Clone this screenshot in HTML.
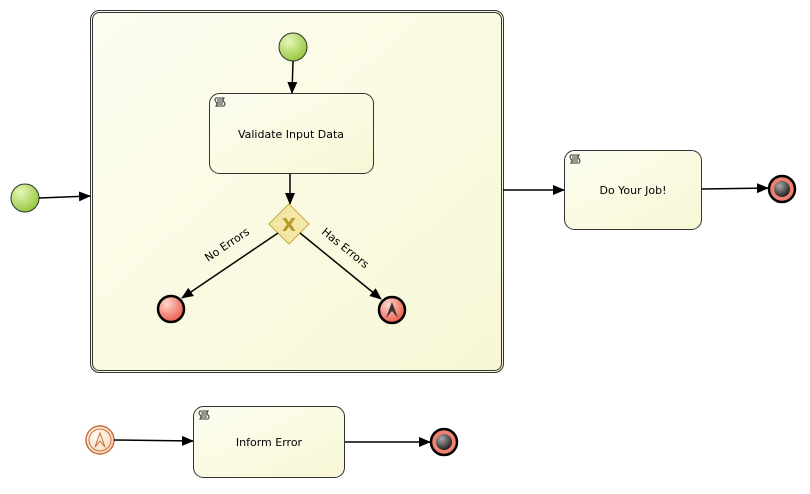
<!DOCTYPE html>
<html><head><meta charset="utf-8"><style>html,body{margin:0;padding:0;background:#fff}svg{display:block}</style></head>
<body>
<svg width="810" height="494" viewBox="0 0 810 494" xmlns="http://www.w3.org/2000/svg" font-family="'DejaVu Sans','Liberation Sans',sans-serif">
<defs>
<linearGradient id="tg" x1="0" y1="0" x2="1" y2="1"><stop offset="0" stop-color="#fdfdf0"/><stop offset="1" stop-color="#f7f7d6"/></linearGradient>
<radialGradient id="sg" cx="0.35" cy="0.3" r="0.8"><stop offset="0" stop-color="#e6f7b8"/><stop offset="1" stop-color="#8fc232"/></radialGradient>
<radialGradient id="eg" cx="0.35" cy="0.3" r="0.8"><stop offset="0" stop-color="#ffd6cc"/><stop offset="1" stop-color="#e8503c"/></radialGradient>
<radialGradient id="dg" cx="0.35" cy="0.3" r="0.8"><stop offset="0" stop-color="#aaa"/><stop offset="1" stop-color="#111"/></radialGradient>
<radialGradient id="og" cx="0.35" cy="0.3" r="0.8"><stop offset="0" stop-color="#fffaf0"/><stop offset="1" stop-color="#f5d8b8"/></radialGradient>
<marker id="ar" markerWidth="12" markerHeight="10" refX="11" refY="5" orient="auto" markerUnits="userSpaceOnUse"><path d="M0,0 L12,5 L0,10 z" fill="#000"/></marker>
<g id="scr"><path d="M2,1 h8 q-2,2 0,4 q2,2 0,4 h-8 q2,-2 0,-4 q-2,-2 0,-4z M3,3h6 M3,5h6 M3,7h6" fill="none" stroke="#333" stroke-width="1"/></g>
</defs>
<rect x="90.5" y="10.5" width="413" height="362" rx="9" fill="url(#tg)" stroke="#333"/>
<rect x="92.5" y="12.5" width="409" height="358" rx="7" fill="none" stroke="#333"/>
<circle cx="25" cy="198" r="14" fill="url(#sg)" stroke="#333" stroke-width="1"/>
<line x1="39" y1="198" x2="90" y2="196" stroke="#000" stroke-width="1.5" marker-end="url(#ar)"/>
<circle cx="293" cy="47" r="14" fill="url(#sg)" stroke="#333"/>
<line x1="293" y1="61" x2="292" y2="93" stroke="#000" stroke-width="1.5" marker-end="url(#ar)"/>
<rect x="209.5" y="93.5" width="164" height="80" rx="10" fill="url(#tg)" stroke="#333"/>
<use href="#scr" x="214" y="97"/>
<text x="291" y="138" font-size="11" text-anchor="middle">Validate Input Data</text>
<line x1="290" y1="174" x2="290" y2="204" stroke="#000" stroke-width="1.5" marker-end="url(#ar)"/>
<path d="M289,204 L309,224 L289,244 L269,224 Z" fill="#f3e7a8" stroke="#c8a83a"/>
<text x="289" y="231" font-size="18" font-weight="bold" fill="#b8982a" text-anchor="middle">X</text>
<line x1="278" y1="233" x2="182" y2="298" stroke="#000" stroke-width="1.5" marker-end="url(#ar)"/>
<line x1="300" y1="233" x2="381" y2="299" stroke="#000" stroke-width="1.5" marker-end="url(#ar)"/>
<text x="0" y="0" font-size="11" transform="translate(208,262) rotate(-34)">No Errors</text>
<text x="0" y="0" font-size="11" transform="translate(321,233) rotate(39)">Has Errors</text>
<circle cx="171" cy="309" r="13" fill="url(#eg)" stroke="#000" stroke-width="2.5"/>
<circle cx="392" cy="310" r="13" fill="url(#eg)" stroke="#000" stroke-width="2.5"/>
<path d="M386,318 L392,302 L398,318 L392,311 Z" fill="#333"/>
<line x1="503" y1="190" x2="564" y2="190" stroke="#000" stroke-width="1.5" marker-end="url(#ar)"/>
<rect x="564.5" y="150.5" width="137" height="79" rx="10" fill="url(#tg)" stroke="#333"/>
<use href="#scr" x="569" y="154"/>
<text x="633" y="194" font-size="11" text-anchor="middle">Do Your Job!</text>
<line x1="702" y1="189" x2="768" y2="188" stroke="#000" stroke-width="1.5" marker-end="url(#ar)"/>
<circle cx="782" cy="189" r="13" fill="#f08070" stroke="#000" stroke-width="2.5"/>
<circle cx="782" cy="189" r="8" fill="url(#dg)"/>
<circle cx="100" cy="440" r="14" fill="url(#og)" stroke="#c87040" stroke-width="1.5"/>
<circle cx="100" cy="440" r="11" fill="none" stroke="#c87040" stroke-width="1"/>
<path d="M95,447 L100,433 L105,447 L100,441 Z" fill="none" stroke="#c87040"/>
<line x1="114" y1="440" x2="193" y2="441" stroke="#000" stroke-width="1.5" marker-end="url(#ar)"/>
<rect x="193.5" y="406.5" width="151" height="71" rx="10" fill="url(#tg)" stroke="#333"/>
<use href="#scr" x="198" y="410"/>
<text x="269" y="446" font-size="11" text-anchor="middle">Inform Error</text>
<line x1="345" y1="442" x2="430" y2="442" stroke="#000" stroke-width="1.5" marker-end="url(#ar)"/>
<circle cx="444" cy="442" r="13" fill="#f08070" stroke="#000" stroke-width="2.5"/>
<circle cx="444" cy="442" r="8" fill="url(#dg)"/>
</svg>
</body></html>
